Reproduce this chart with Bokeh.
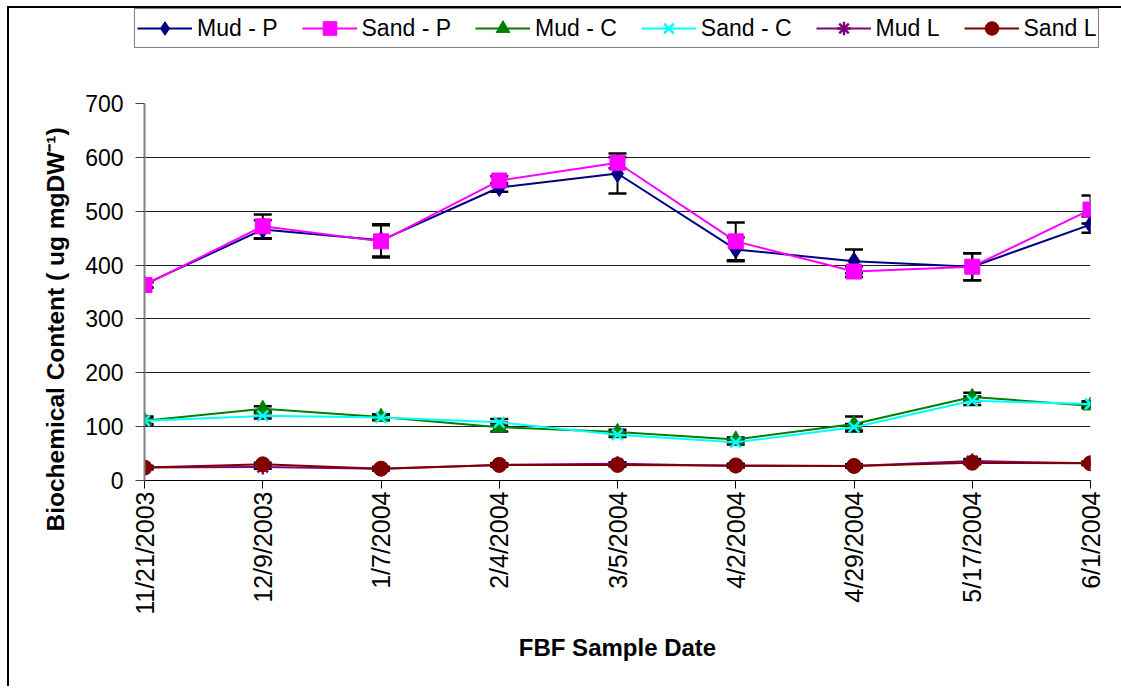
import math
from bokeh.plotting import figure
from bokeh.layouts import column
from bokeh.models import (ColumnDataSource, Range1d, FixedTicker, Legend, LegendItem,
                          Whisker, TeeHead)
from bokeh.embed import file_html
from bokeh.resources import INLINE

# ---------------- data ----------------
dates = ["11/21/2003", "12/9/2003", "1/7/2004", "2/4/2004", "3/5/2004",
         "4/2/2004", "4/29/2004", "5/17/2004", "6/1/2004"]
mud_p = [364, 466, 446, 544, 570, 429, 407, 397, 475]
sand_p = [363, 472, 444, 557, 590, 444, 388, 397, 503]
mud_c = [111, 133, 118, 99, 90, 76, 105, 155, 139]
sand_c = [111, 120, 117, 108, 85, 71, 99, 148, 142]
mud_l = [24, 25, 22, 29, 31, 27, 27, 36, 32]
sand_l = [24, 30, 22, 29, 29, 28, 27, 33, 32]

mud_p_err = [5, 17, 30, 8, 37, 22, 22, 25, 15]
sand_p_err = [5, 22, 30, 8, 10, 35, 10, 25, 26]
mud_c_err = [8, 5, 5, 8, 4, 4, 14, 8, 5]
sand_c_err = [6, 5, 5, 6, 4, 4, 6, 8, 5]
mud_l_err = [3, 3, 3, 3, 3, 3, 3, 4, 3]
sand_l_err = [3, 3, 3, 3, 3, 3, 3, 3, 3]

y_ticks = [0, 100, 200, 300, 400, 500, 600, 700]

FONT = "Liberation Sans"
xs = list(range(len(dates)))

series = [
    ("Mud - P", mud_p, mud_p_err, "#000080", "diamond", 18),
    ("Sand - P", sand_p, sand_p_err, "#FF00FF", "square", 15),
    ("Mud - C", mud_c, mud_c_err, "#008000", "triangle", 15),
    ("Sand - C", sand_c, sand_c_err, "#00FFFF", "x", 15),
    ("Mud L", mud_l, mud_l_err, "#800080", "asterisk", 15),
    ("Sand L", sand_l, sand_l_err, "#800000", "circle", 15),
]


def add_series(fig, xvals, vals, color, marker, size):
    src = ColumnDataSource(dict(x=xvals, y=vals))
    ln = fig.line("x", "y", source=src, line_color=color, line_width=2)
    if marker in ("x", "asterisk"):
        sc = fig.scatter("x", "y", source=src, marker=marker, size=size,
                         line_color=color, line_width=2.5)
    else:
        sc = fig.scatter("x", "y", source=src, marker=marker, size=size,
                         fill_color=color, line_color=color)
    return ln, sc


W = 1114
LEG_H = 40

# ---------------- main plot ----------------
p = figure(width=W, height=638, output_backend="svg", toolbar_location=None,
           x_range=Range1d(0, len(dates) - 1), y_range=Range1d(0, 700),
           min_border_left=135, min_border_right=W + 9 - 1090, min_border_top=55,
           min_border_bottom=206)
p.outline_line_color = None
p.background_fill_color = "white"
p.border_fill_color = "white"

p.xaxis.ticker = FixedTicker(ticks=xs)
p.xaxis.major_label_overrides = {i: d for i, d in enumerate(dates)}
p.xaxis.major_label_orientation = math.pi / 2
p.xaxis.minor_tick_line_color = None
p.xaxis.major_tick_out = 8
p.xaxis.major_tick_in = 0
p.xaxis.axis_line_color = "black"
p.xaxis.major_tick_line_color = "black"
p.xaxis.major_label_text_font = FONT
p.xaxis.major_label_text_font_size = "25px"
p.xaxis.major_label_text_color = "black"
p.xaxis.major_label_standoff = 3
p.xaxis.axis_label = "FBF Sample Date"
p.xaxis.axis_label_text_font = FONT
p.xaxis.axis_label_text_font_style = "bold"
p.xaxis.axis_label_text_font_size = "24px"
p.xaxis.axis_label_text_color = "black"
p.xaxis.axis_label_standoff = 16

p.yaxis.ticker = FixedTicker(ticks=y_ticks)
p.yaxis.minor_tick_line_color = None
p.yaxis.major_tick_out = 9
p.yaxis.major_tick_in = 0
p.yaxis.axis_line_color = "#808080"
p.yaxis.axis_line_width = 2
p.yaxis.major_tick_line_color = "#404040"
p.yaxis.major_label_text_font = FONT
p.yaxis.major_label_text_font_size = "23px"
p.yaxis.major_label_text_color = "black"
p.yaxis.major_label_standoff = 12
p.yaxis.axis_label = "Biochemical Content ( ug mgDW\u207B\u00B9)" + "\u00A0" * 11
p.yaxis.axis_label_text_font = FONT
p.yaxis.axis_label_text_font_style = "bold"
p.yaxis.axis_label_text_font_size = "24.5px"
p.yaxis.axis_label_text_color = "black"
p.yaxis.axis_label_standoff = 13

p.xgrid.grid_line_color = None
p.ygrid.grid_line_color = "#202020"
p.ygrid.grid_line_width = 1
p.ygrid.ticker = FixedTicker(ticks=y_ticks)

for name, vals, errs, color, marker, size in series:
    src = ColumnDataSource(dict(x=xs, lo=[v - e for v, e in zip(vals, errs)],
                                hi=[v + e for v, e in zip(vals, errs)]))
    w = Whisker(source=src, base="x", lower="lo", upper="hi", dimension="height",
                line_color="black", line_width=2, level="underlay",
                upper_head=TeeHead(size=18, line_width=2.5, line_color="black"),
                lower_head=TeeHead(size=18, line_width=2.5, line_color="black"))
    p.add_layout(w)

for name, vals, errs, color, marker, size in series:
    add_series(p, xs, vals, color, marker, size)

# ---------------- legend strip ----------------
lf = figure(width=W, height=LEG_H, output_backend="svg", toolbar_location=None,
            x_range=Range1d(0, 1), y_range=Range1d(0, 1),
            min_border=0, min_border_left=0, min_border_right=0,
            min_border_top=0, min_border_bottom=0)
lf.frame_align = False
lf.axis.visible = False
lf.grid.grid_line_color = None
lf.outline_line_color = None
lf.background_fill_color = "white"
lf.border_fill_color = "white"

items = []
for name, vals, errs, color, marker, size in series:
    # one point far outside the visible range: only its legend glyph shows
    ln, sc = add_series(lf, [-5], [-5], color, marker, size)
    items.append(LegendItem(label=name, renderers=[ln, sc]))

legend = Legend(items=items, orientation="horizontal", location=(125, 0),
                label_text_font=FONT, label_text_font_size="23px",
                label_text_color="black", glyph_width=55, glyph_height=34,
                label_standoff=5, spacing=24, padding=2, margin=0,
                border_line_color="black", border_line_width=1,
                background_fill_color="white", background_fill_alpha=1)
lf.add_layout(legend)

layout = column(lf, p, spacing=0)
layout.margin = (6, 0, 0, 7)
layout.styles = {"border-top": "2px solid #000", "border-left": "2px solid #000",
                 "border-right": "none", "border-bottom": "none",
                 "box-shadow": "none", "outline": "none"}

html = file_html(layout, INLINE)
html = html.replace("<head>", "<head><style>html,body{overflow:hidden;margin:0;}</style>", 1)
open("out.html", "w").write(html)
